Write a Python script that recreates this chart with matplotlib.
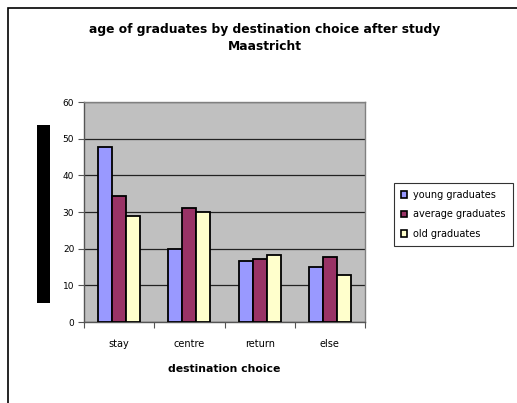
import numpy as np
import matplotlib.pyplot as plt
from matplotlib.patches import Rectangle

plt.rcParams['font.family'] = ['DejaVu Sans']

categories = ['stay', 'centre', 'return', 'else']
young = [47.8, 20.0, 16.6, 15.0]
average = [34.5, 31.0, 17.2, 17.7]
old = [28.9, 30.0, 18.3, 12.7]
series_names = ['young graduates', 'average graduates', 'old graduates']
colores = ['#9999FF', '#993366', '#FFFFCC']

W, H = 517, 403
fig = plt.figure(figsize=(W / 100, H / 100), dpi=100)

# marco exterior del grafico
fig.patches.append(Rectangle((8 / W, -0.1), 1.2, 1 - 8 / H + 0.1, transform=fig.transFigure,
                             fill=False, edgecolor='black', linewidth=1.2))
# bloque negro a la izquierda
fig.patches.append(Rectangle((37 / W, 1 - 303 / H), 13 / W, 178 / H, transform=fig.transFigure,
                             facecolor='black', edgecolor='none'))

ax = fig.add_axes([84 / W, 1 - 322 / H, 281 / W, 220 / H])
ax.set_facecolor('#C0C0C0')

x = np.arange(len(categories))
ancho = 0.2
for k, datos in enumerate([young, average, old]):
    ax.bar(x + (k - 1) * ancho, datos, ancho, color=colores[k], edgecolor='black',
           linewidth=1.3, label=series_names[k], zorder=3)

ax.set_xlim(-0.5, len(categories) - 0.5)
ax.set_ylim(0, 60)
ax.set_yticks(np.arange(0, 61, 10))
ax.yaxis.grid(True, color='#222222', linewidth=0.9, zorder=1)
ax.set_axisbelow(True)

ax.set_xticks(np.arange(-0.5, len(categories), 1.0))
ax.set_xticklabels([])
ax.set_xticks(x, minor=True)
ax.set_xticklabels(categories, minor=True, fontsize=7)
ax.tick_params(axis='x', which='minor', length=0, pad=12)
ax.tick_params(axis='x', which='major', length=4, color='#555555', direction='out')
ax.tick_params(axis='y', length=4, color='#555555', labelsize=6.5, pad=3)

for lado in ['top', 'right']:
    ax.spines[lado].set_color('#808080')
    ax.spines[lado].set_linewidth(1.0)
for lado in ['left', 'bottom']:
    ax.spines[lado].set_color('#555555')
    ax.spines[lado].set_linewidth(1.0)

ax.set_xlabel('destination choice', fontsize=7.8, fontweight='bold', labelpad=11)

fig.text(265 / W, 1 - 30 / H, 'age of graduates by destination choice after study',
         ha='center', va='center', fontsize=8.8, fontweight='bold')
fig.text(265 / W, 1 - 47 / H, 'Maastricht', ha='center', va='center', fontsize=8.8,
         fontweight='bold')

leg = ax.legend(loc='upper left', bbox_to_anchor=(389 / W, 1 - 178 / H),
                bbox_transform=fig.transFigure, fontsize=7, frameon=True, fancybox=False,
                edgecolor='black', handlelength=0.7, handleheight=0.7, labelspacing=1.0,
                borderpad=0.7, handletextpad=0.6)
leg.get_frame().set_linewidth(0.8)
for h in leg.legend_handles:
    h.set_linewidth(1.2)

fig.savefig('out.png', dpi=100)
